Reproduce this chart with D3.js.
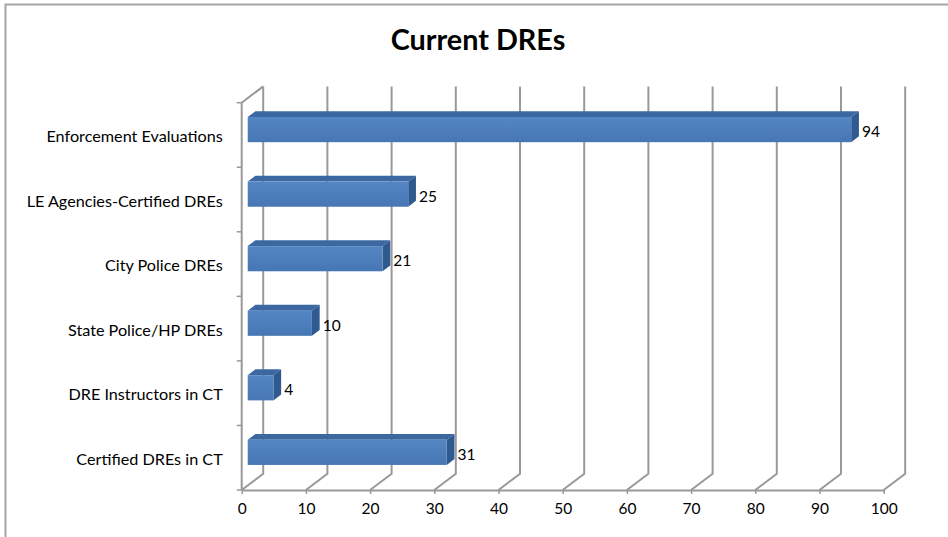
<!DOCTYPE html>
<html>
<head>
<meta charset="utf-8">
<script src="https://cdn.jsdelivr.net/npm/d3@7"></script>
<style>
  html, body { margin: 0; padding: 0; background: #fff; }
  svg { display: block; }
</style>
</head>
<body>
<div id="chart"></div>
<script>
// Current DREs — 3D clustered bar, Excel 2007 look
const categories = [
  'Enforcement Evaluations',
  'LE Agencies-Certified DREs',
  'City Police DREs',
  'State Police/HP DREs',
  'DRE Instructors in CT',
  'Certified DREs in CT',
];
const values = [94, 25, 21, 10, 4, 31];
const xTicks = [0, 10, 20, 30, 40, 50, 60, 70, 80, 90, 100];

const W = 948, H = 537;
const DX = 21.5, DY = -16.3;      // depth offset of back wall
const F0 = 0.28, F1 = 0.64;       // bar depth (front/back fraction)
const GRID = '#999999';
const FONT = 'Lato, "Open Sans", sans-serif';

const svg = d3.select('#chart').append('svg')
  .attr('width', W).attr('height', H);

const defs = svg.append('defs');
const grad = defs.append('linearGradient').attr('id', 'front')
  .attr('x1', 0).attr('y1', 0).attr('x2', 0).attr('y2', 1);
grad.append('stop').attr('offset', '0%').attr('stop-color', '#5486c3');
grad.append('stop').attr('offset', '100%').attr('stop-color', '#4677b4');

// chart area border (top + left visible)
svg.append('path')
  .attr('d', `M5.5,${H} L5.5,4.5 L${W},4.5`)
  .attr('fill', 'none').attr('stroke', '#a6a6a6').attr('stroke-width', 2);

// title
svg.append('text')
  .attr('x', 478).attr('y', 50)
  .attr('text-anchor', 'middle')
  .attr('font-family', FONT).attr('font-weight', 'bold').attr('font-size', 28.8)
  .attr('fill', '#000')
  .text('Current DREs');

const x = d3.scaleLinear([0, 100], [241.7, 883.7]);
const y = d3.scaleBand(categories, [102.7, 490]).paddingInner(0).paddingOuter(0);
const floorY = y.range()[1], topY = y.range()[0];

const g = svg.append('g');

// back wall gridlines + floor diagonals
xTicks.forEach(t => {
  const xf = x(t), xb = x(t) + DX;
  g.append('path')
    .attr('d', `M${xf},${floorY} L${xb},${floorY + DY} L${xb},${topY + DY}`)
    .attr('fill', 'none').attr('stroke', GRID).attr('stroke-width', 2);
});

// left wall: front vertical and top diagonal
g.append('path')
  .attr('d', `M${x(0) + DX},${topY + DY} L${x(0)},${topY} L${x(0)},${floorY}`)
  .attr('fill', 'none').attr('stroke', GRID).attr('stroke-width', 2);

// category tick marks at band boundaries
categories.concat([null]).forEach((c, i) => {
  const ty = c ? y(c) : floorY;
  g.append('line')
    .attr('x1', x(0) - 5).attr('x2', x(0))
    .attr('y1', ty).attr('y2', ty)
    .attr('stroke', GRID).attr('stroke-width', 1.5);
});

// bottom axis
const xAxis = g.append('g')
  .attr('transform', `translate(0,${floorY})`)
  .call(d3.axisBottom(x).tickValues(xTicks).tickSize(4).tickSizeOuter(0).tickPadding(9));
xAxis.select('.domain').attr('stroke', GRID).attr('stroke-width', 2);
xAxis.selectAll('.tick line').attr('stroke', GRID).attr('stroke-width', 1.5);
xAxis.selectAll('.tick text')
  .attr('font-family', FONT).attr('font-size', 15.5).attr('fill', '#000');

// left category labels
const yAxis = g.append('g')
  .attr('transform', `translate(${x(0)},0)`)
  .call(d3.axisLeft(y).tickSize(0).tickPadding(19));
yAxis.select('.domain').remove();
yAxis.selectAll('.tick text')
  .attr('font-family', FONT).attr('font-size', 16.2).attr('fill', '#000')
  .attr('dy', '0.45em');

// bars
const bh = y.bandwidth() * 0.39;
categories.forEach((c, i) => {
  const v = values[i];
  const cy = y(c) + y.bandwidth() / 2;
  const x0 = x(0) + DX * F0, x1 = x(v) + DX * F0;
  const yt = cy - bh / 2 + DY * 0.33, yb = yt + bh;
  const ddx = DX * (F1 - F0), ddy = DY * (F1 - F0);

  // top face
  g.append('path')
    .attr('d', `M${x0},${yt} L${x0 + ddx},${yt + ddy} L${x1 + ddx},${yt + ddy} L${x1},${yt} Z`)
    .attr('fill', '#3c68a2');
  // side face
  g.append('path')
    .attr('d', `M${x1},${yt} L${x1 + ddx},${yt + ddy} L${x1 + ddx},${yb + ddy} L${x1},${yb} Z`)
    .attr('fill', '#2f5a8f');
  // front face
  g.append('rect')
    .attr('x', x0).attr('y', yt).attr('width', x1 - x0).attr('height', bh)
    .attr('fill', 'url(#front)');

  g.append('text')
    .attr('x', x1 + ddx + 3).attr('y', (yt + yb) / 2 + 2)
    .attr('dy', '0.35em')
    .attr('font-family', FONT).attr('font-size', 15.5).attr('fill', '#000')
    .text(v);
});
</script>
</body>
</html>
